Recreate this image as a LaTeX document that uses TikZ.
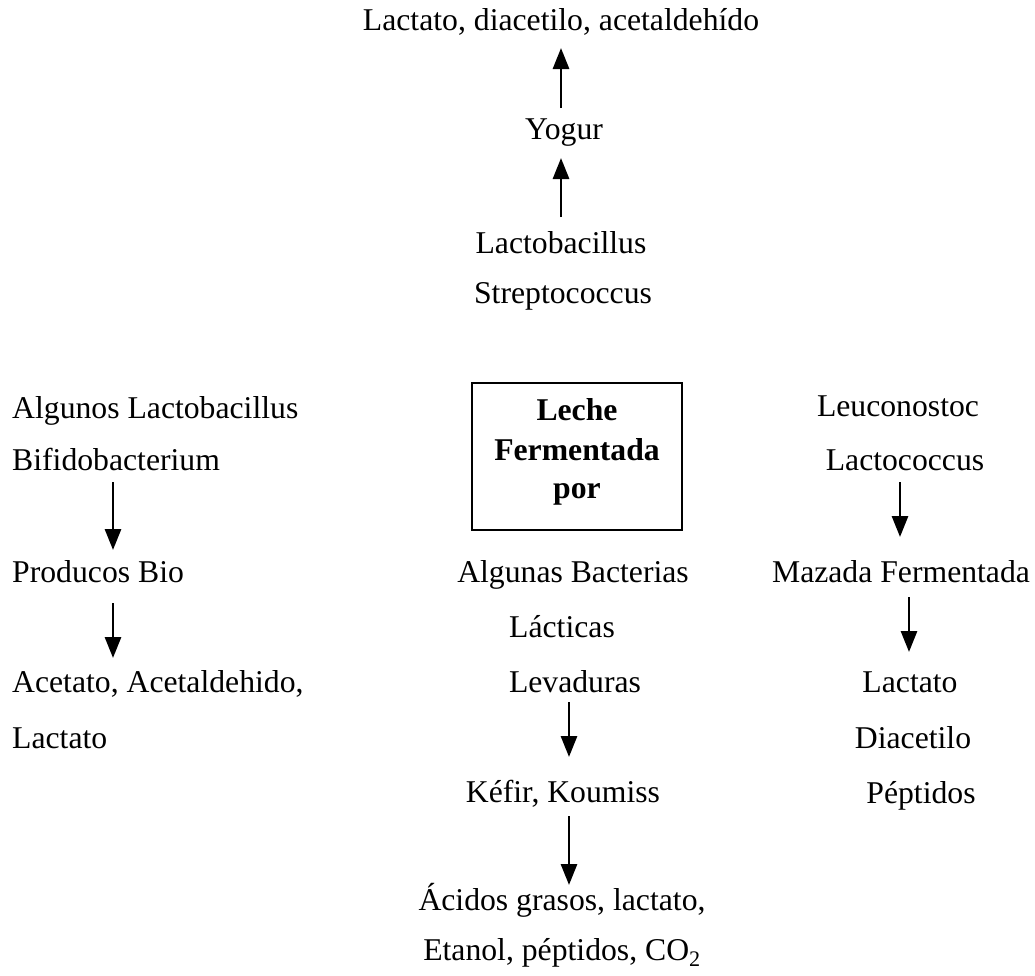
\documentclass[tikz,border=0pt]{standalone}
\usepackage{fontspec}
\setmainfont{Liberation Serif}
\usetikzlibrary{arrows.meta}
\begin{document}
\begin{tikzpicture}[x=1pt,y=-1pt,
  txt/.style={inner sep=0pt,anchor=base,font=\fontsize{31.7}{38}\selectfont},
  ltxt/.style={txt,anchor=base west},
  btxt/.style={txt,font=\fontsize{31.7}{38}\selectfont\bfseries},
  arr/.style={line width=2.9pt,-{Triangle[width=16pt,length=21pt]}},
  boxst/.style={draw,line width=2pt,minimum width=210pt,minimum height=147pt,inner sep=0pt}]
\useasboundingbox (0,0) rectangle (1035,975);
% top column
\node[txt] (prod) at (561,30) {Lactato, diacetilo, acetaldehído};
\node[txt] (yog) at (564,139) {Yogur};
\node[txt] (lacb) at (561,253) {Lactobacillus};
\node[txt] (strep) at (563,303) {Streptococcus};
\coordinate (u1s) at (561,108); \coordinate (u1e) at (561,48);
\coordinate (u2s) at (561,217); \coordinate (u2e) at (561,158);
\draw[arr] (u1s) -- (u1e);
\draw[arr] (u2s) -- (u2e);
% box
\node[boxst] (box) at (577,456.5) {};
\node[btxt] (b1) at (577,420) {Leche};
\node[btxt] (b2) at (577,460) {Fermentada};
\node[btxt] (b3) at (577,498) {por};
% left column
\node[ltxt] (l1) at (12,418) {Algunos Lactobacillus};
\node[ltxt] (l2) at (12,470) {Bifidobacterium};
\node[ltxt] (l3) at (12,582) {Producos Bio};
\node[ltxt] (l4) at (12,692) {Acetato, Acetaldehido,};
\node[ltxt] (l5) at (12,748) {Lactato};
\coordinate (la1s) at (113,482); \coordinate (la1e) at (113,550);
\coordinate (la2s) at (113,603); \coordinate (la2e) at (113,658);
\draw[arr] (la1s) -- (la1e);
\draw[arr] (la2s) -- (la2e);
% middle column
\node[txt] (m1) at (573,582) {Algunas Bacterias};
\node[txt] (m2) at (562,637) {Lácticas};
\node[txt] (m3) at (575,692) {Levaduras};
\node[txt] (m4) at (563,802) {Kéfir, Koumiss};
\node[txt] (m5) at (562,910) {Ácidos grasos, lactato,};
\node[txt] (m6) at (562,960) {Etanol, péptidos, CO\textsubscript{2}};
\coordinate (ma1s) at (569,702); \coordinate (ma1e) at (569,757);
\coordinate (ma2s) at (569,816); \coordinate (ma2e) at (569,885);
\draw[arr] (ma1s) -- (ma1e);
\draw[arr] (ma2s) -- (ma2e);
% right column
\node[txt] (r1) at (898,416) {Leuconostoc};
\node[txt] (r2) at (905,470) {Lactococcus};
\node[txt] (r3) at (901,582) {Mazada Fermentada};
\node[txt] (r4) at (910,692) {Lactato};
\node[txt] (r5) at (913,748) {Diacetilo};
\node[txt] (r6) at (921,803) {Péptidos};
\coordinate (ra1s) at (900,482); \coordinate (ra1e) at (900,537);
\coordinate (ra2s) at (909,597); \coordinate (ra2e) at (909,652);
\draw[arr] (ra1s) -- (ra1e);
\draw[arr] (ra2s) -- (ra2e);
\end{tikzpicture}
\end{document}
